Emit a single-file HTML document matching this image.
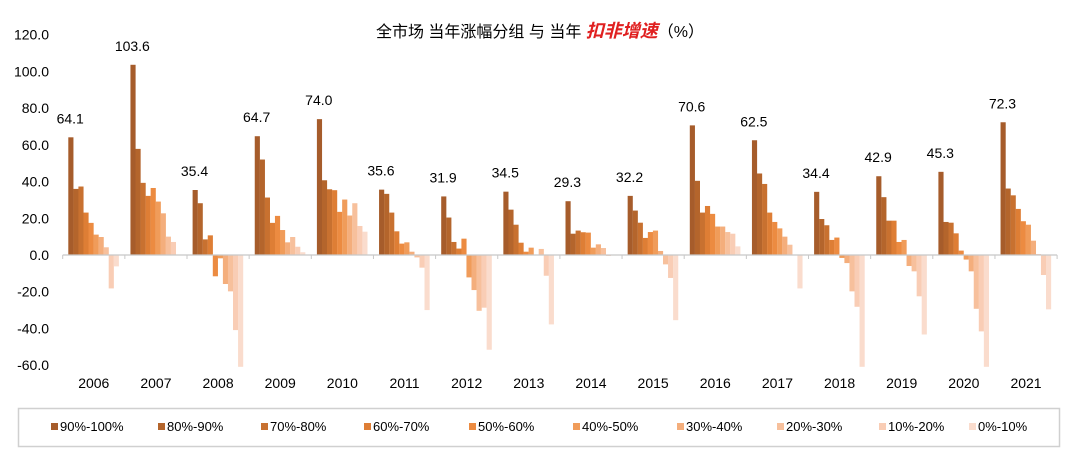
<!DOCTYPE html>
<html><head><meta charset="utf-8">
<style>
body{margin:0;background:#fff;width:1080px;height:460px;overflow:hidden;font-family:"Liberation Sans","Noto Sans CJK SC",sans-serif;}
svg text{font-family:"Liberation Sans","Noto Sans CJK SC",sans-serif;}
</style></head>
<body>
<svg id="chart" width="1080" height="460" xmlns="http://www.w3.org/2000/svg">
<text x="540" y="37" text-anchor="middle" font-size="16" fill="#000">全市场 当年涨幅分组 与 当年 <tspan fill="#E02020" font-weight="bold" font-style="italic" font-size="18">扣非增速</tspan>（%）</text>
<rect x="18.5" y="408.5" width="1041" height="38" fill="#fff" stroke="#d0d0d0" stroke-width="1.5"/>
</svg>
<script>
const years=["2006","2007","2008","2009","2010","2011","2012","2013","2014","2015","2016","2017","2018","2019","2020","2021"];
const groups=["90%-100%","80%-90%","70%-80%","60%-70%","50%-60%","40%-50%","30%-40%","20%-30%","10%-20%","0%-10%"];
const labels=[64.1,103.6,35.4,64.7,74.0,35.6,31.9,34.5,29.3,32.2,70.6,62.5,34.4,42.9,45.3,72.3];
const values=[
[64.1,36,37.3,23.1,17.5,11.1,9.8,4.2,-18.2,-6.2],
[103.6,57.8,39.3,32.2,36.5,29.1,22.7,10,7.1,0.3],
[35.4,28.2,8.5,10.7,-11.6,-1.8,-15.8,-19.8,-40.9,-60.9],
[64.7,52,31.3,17.5,21.3,13.6,6.9,9.8,4.5,1.5],
[74.0,40.7,35.8,35.3,23.5,30.2,21.5,28.2,15.8,12.7],
[35.6,33.3,23.1,12.9,6.2,6.9,1.8,-1.3,-6.9,-30],
[31.9,20.4,7.1,3.5,8.9,-12.2,-19.1,-30.4,-28.7,-51.6],
[34.5,24.7,16.5,6.7,1.8,4,0,3.3,-11.3,-37.8],
[29.3,11.6,13.3,12.4,12.2,4,5.8,3.8,-0.5,-0.3],
[32.2,24.2,17.6,9.3,12.5,13.3,2.2,-5.1,-12.5,-35.5],
[70.6,40.4,23.1,26.7,22.4,15.5,15.5,12.5,11.6,4.7],
[62.5,44.4,38.7,23.1,18,14.5,10,5.6,0,-18.2],
[34.4,19.6,16.2,8.2,9.5,-1.6,-4.4,-19.8,-28.2,-60.9],
[42.9,31.5,18.7,18.7,7.1,8.2,-6,-8.9,-22.5,-43.3],
[45.3,18,17.6,11.8,2.4,-2.5,-8.9,-29.3,-41.6,-60.9],
[72.3,36.2,32.5,25.1,18.4,16.5,7.8,0.5,-10.9,-29.6]];
const yTicks=[120,100,80,60,40,20,0,-20,-40,-60];
const colors=["#A65C2B","#B4652C","#C87130","#DE7E35","#EC8B41","#F09C5A","#F4AE7C","#F7C09C","#F9CDB5","#FADCCD"];
const svg=document.getElementById('chart');
const NS="http://www.w3.org/2000/svg";
const X0=62.7,GW=62.15,Y0=255,K=1.836;
const y=v=>Y0-v*K;
const gx=i=>X0+i*GW;
function mk(t,a){const e=document.createElementNS(NS,t);for(const k in a)e.setAttribute(k,a[k]);svg.appendChild(e);return e;}
yTicks.forEach(v=>{const t=mk('text',{x:49,y:y(v)+5,'text-anchor':'end','font-size':14,fill:'#000'});


t.textContent=v.toFixed(1);});
values.forEach((row,i)=>{row.forEach((v,j)=>{const r=mk('rect',{x:gx(i)+5.6+j*5.05,y:Math.min(y(v),Y0),width:5.15,height:Math.abs(v*K),fill:colors[j]});

});
const l=mk('text',{x:gx(i)+7.5,y:y(labels[i])-14,'text-anchor':'middle','font-size':14,fill:'#000'});


l.textContent=labels[i].toFixed(1);
const yl=mk('text',{x:gx(i)+GW/2,y:388,'text-anchor':'middle','font-size':14,fill:'#000'});


yl.textContent=years[i];});
const ax=mk('line',{x1:X0,x2:gx(years.length),y1:Y0,y2:Y0,stroke:'#c8c8c8','stroke-width':1.2});


for(let i=0;i<=years.length;i++){const tk=mk('line',{x1:gx(i),x2:gx(i),y1:Y0,y2:Y0+4,stroke:'#c8c8c8','stroke-width':1});

}
const lx=[51,158,261,364,469,573,677,777,879,969];
groups.forEach((g,j)=>{const s=mk('rect',{x:lx[j],y:423,width:7,height:7,fill:colors[j]});


const t=mk('text',{x:lx[j]+9,y:431,'font-size':13,fill:'#000'});


t.textContent=g;});
</script>
</body></html>
